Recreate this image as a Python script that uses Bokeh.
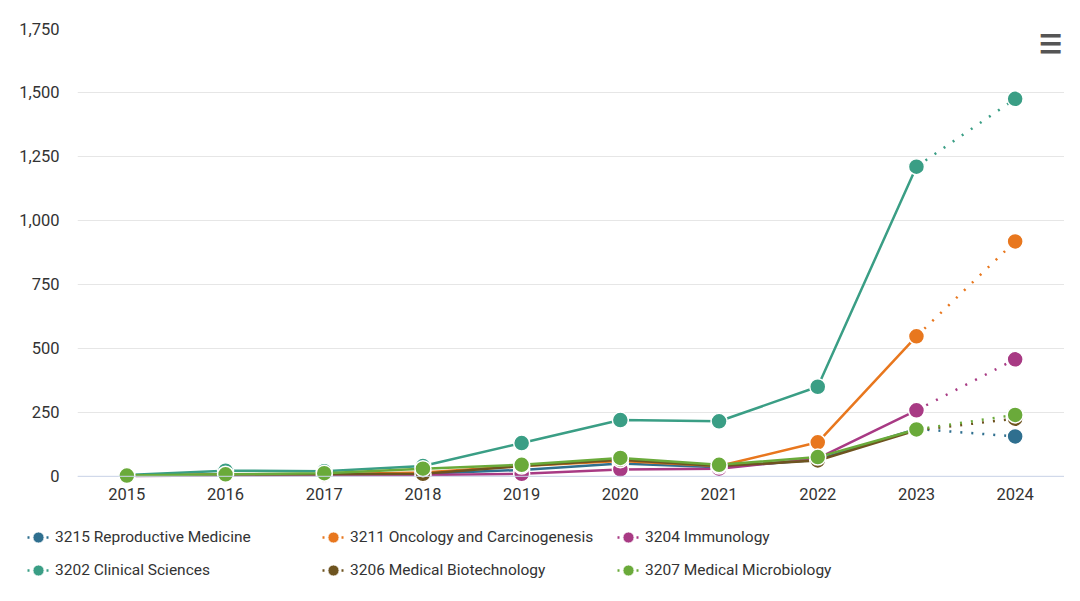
from bokeh.plotting import figure
from bokeh.layouts import column
from bokeh.models import Legend, LegendItem, FixedTicker, Span, Label, NumeralTickFormatter, Range1d, Plot
from bokeh.embed import file_html
from bokeh.resources import INLINE

years = [2015, 2016, 2017, 2018, 2019, 2020, 2021, 2022, 2023, 2024]
series_names = [
    "3215 Reproductive Medicine",
    "3211 Oncology and Carcinogenesis",
    "3204 Immunology",
    "3202 Clinical Sciences",
    "3206 Medical Biotechnology",
    "3207 Medical Microbiology",
]
reproductive = [2, 6, 6, 10, 25, 50, 35, 65, 185, 156]
oncology = [2, 8, 8, 15, 40, 60, 40, 133, 547, 918]
immunology = [1, 3, 4, 5, 10, 27, 30, 70, 258, 457]
clinical = [5, 22, 20, 40, 130, 220, 215, 350, 1210, 1475]
biotech = [2, 6, 8, 10, 40, 65, 40, 62, 180, 225]
microbiology = [3, 8, 12, 30, 45, 72, 45, 75, 183, 240]
all_values = [reproductive, oncology, immunology, clinical, biotech, microbiology]
colors = ["#2f6f8f", "#e8771e", "#a83a84", "#3a9e85", "#6e5420", "#6aaa3a"]
y_ticks = [0, 250, 500, 750, 1000, 1250, 1500, 1750]

FONT = "Roboto"

p = figure(width=1064, height=505, output_backend="svg", toolbar_location=None,
           x_range=Range1d(2014.5, 2024.5), y_range=Range1d(-32, 1750),
           min_border_left=77, min_border_right=0, min_border_top=28, min_border_bottom=21)
p.outline_line_color = None
p.background_fill_color = "white"
p.border_fill_color = "white"

p.xaxis.ticker = FixedTicker(ticks=years)
p.yaxis.ticker = FixedTicker(ticks=y_ticks)
p.yaxis.formatter = NumeralTickFormatter(format="0,0")
for ax in (p.xaxis, p.yaxis):
    ax.axis_line_color = None
    ax.major_tick_line_color = None
    ax.minor_tick_line_color = None
    ax.major_tick_out = 0
    ax.major_tick_in = 0
    ax.major_label_text_font = FONT
    ax.major_label_text_font_size = "16.5px"
    ax.major_label_text_color = "#333333"
p.xaxis.major_label_standoff = 3
p.yaxis.major_label_standoff = 18
p.xgrid.grid_line_color = None
p.ygrid.grid_line_color = "#e6e6e6"
p.ygrid.grid_line_width = 1

p.add_layout(Span(location=0, dimension="width", line_color="#ccd6eb", line_width=1))

for name, vals, c in zip(series_names, all_values, colors):
    p.line(years[:9], vals[:9], line_color=c, line_width=2.5)
    p.line(years[8:], vals[8:], line_color=c, line_width=2.5, line_dash="2 9")
    p.scatter(years, vals, size=16, fill_color=c, line_color="white", line_width=1.5)

p.add_layout(Label(x=2024.36, y=1691, text="☰", text_align="center", text_baseline="middle",
                   text_font_size="26px", text_font_style="bold", text_color="#555555"))

# legend strip (its series lie outside its ranges; only the legend is visible)
lg = figure(width=1064, height=85, output_backend="svg", toolbar_location=None,
            x_range=Range1d(0, 1), y_range=Range1d(0, 1), x_axis_type=None, y_axis_type=None,
            min_border_left=0, min_border_right=0, min_border_top=0, min_border_bottom=0)
if "frame_align" in Plot.properties():
    lg.frame_align = False
    p.frame_align = False
lg.outline_line_color = None
lg.xgrid.grid_line_color = None
lg.ygrid.grid_line_color = None
items = []
for name, vals, c in zip(series_names, all_values, colors):
    d = lg.line(years[8:], vals[8:], line_color=c, line_width=2.5, line_dash="2 17",
                line_dash_offset=16)
    s = lg.scatter(years, vals, size=16, fill_color=c, line_color="white", line_width=1)
    items.append(LegendItem(label=name, renderers=[d, s]))
legend = Legend(items=items, ncols=3, location=(24, 6), orientation="horizontal",
                label_text_font=FONT, label_text_font_size="15.5px", label_text_color="#333333",
                glyph_width=28, glyph_height=28, label_standoff=3, label_width=259,
                spacing=5, padding=0, margin=0, border_line_color=None,
                background_fill_alpha=0)
lg.add_layout(legend, "center")

open("out.html", "w").write(file_html(column(p, lg, spacing=0), INLINE))
